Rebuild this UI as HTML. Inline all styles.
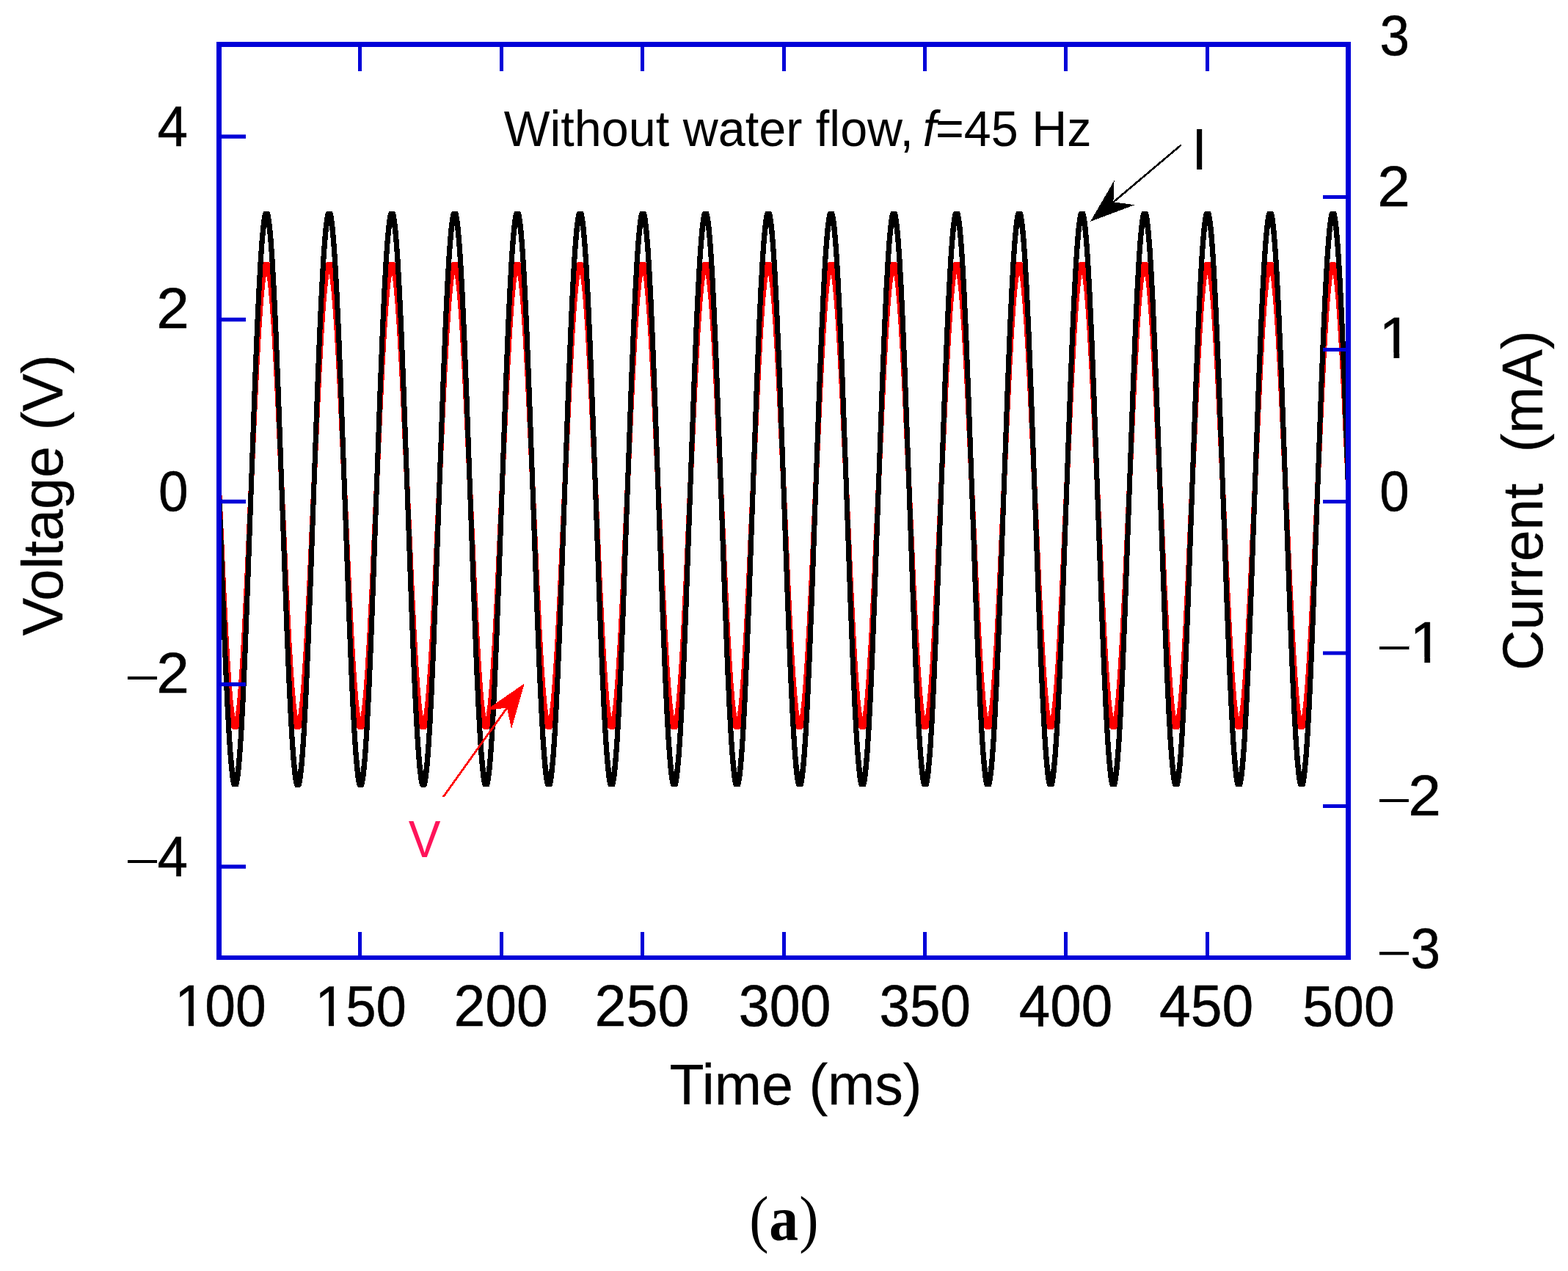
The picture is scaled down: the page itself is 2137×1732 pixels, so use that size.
<!DOCTYPE html>
<html lang="en"><head><meta charset="utf-8"><title>Voltage and current without water flow</title>
<style>
html,body{margin:0;padding:0;background:#fff;}
body{width:2137px;height:1732px;}
svg{display:block;}
text{font-family:"Liberation Sans",sans-serif;fill:#000;}
.cap{font-family:"Liberation Serif",serif;}
</style></head><body>
<svg width="2137" height="1732" viewBox="0 0 2137 1732" role="img" aria-label="Voltage and current versus time without water flow, f=45 Hz">
<rect x="0" y="0" width="2137" height="1732" fill="#fff"/>
<defs><clipPath id="plot"><rect x="295" y="57" width="1546" height="1251"/></clipPath></defs>
<g clip-path="url(#plot)" stroke="none" shape-rendering="crispEdges">
<polygon points="295.6,672.0 302.4,672.0 307.8,793.6 311.0,858.0 313.6,902.8 315.8,934.3 317.6,954.9 319.2,969.1 320.2,975.9 320.4,976.8 321.8,967.2 323.4,952.4 325.2,931.0 327.4,898.9 330.2,849.5 333.8,775.3 343.6,553.5 346.8,488.9 349.4,443.5 351.6,411.7 353.4,390.6 355.0,376.0 356.4,366.6 357.4,361.8 358.2,359.1 359.0,357.6 359.4,357.4 360.2,357.2 366.8,357.2 367.8,358.5 368.8,361.5 370.0,367.5 371.2,375.7 372.8,390.1 374.6,411.0 376.8,442.8 379.4,487.9 382.8,556.8 389.6,711.2 394.0,808.4 397.0,867.1 399.6,910.6 401.6,938.0 403.4,958.0 404.8,969.8 405.8,976.5 406.0,976.3 407.4,966.4 409.0,951.3 411.0,927.1 413.2,893.9 416.0,843.7 419.6,768.7 429.0,555.7 432.4,487.0 435.0,441.9 437.2,410.4 439.0,389.5 440.4,376.9 441.8,367.0 443.0,361.4 443.8,358.9 444.6,357.5 444.8,357.3 449.2,357.3 452.4,357.3 453.4,358.7 454.4,361.9 455.6,368.1 456.8,376.5 458.4,391.1 460.2,412.3 462.4,444.4 465.0,489.7 468.4,558.9 478.6,789.4 481.8,854.2 484.4,899.6 486.6,931.6 488.4,952.8 489.8,966.0 491.2,975.9 491.4,976.8 492.4,970.2 493.8,958.4 495.6,938.7 497.6,911.4 500.2,868.0 503.4,805.3 508.4,694.0 514.4,557.9 517.8,488.8 520.6,440.4 522.8,409.1 524.6,388.5 526.0,376.1 527.2,367.7 528.4,361.7 529.4,358.6 530.2,357.4 530.4,357.3 537.8,357.3 538.0,357.3 539.0,359.0 540.0,362.3 541.2,368.7 542.4,377.3 544.0,392.2 545.8,413.6 548.0,446.0 550.6,491.6 554.0,561.1 564.2,791.5 567.4,856.0 570.0,901.2 572.2,932.9 574.0,953.8 575.4,966.8 576.8,976.5 577.0,976.2 578.2,968.0 579.8,953.3 581.6,932.3 583.8,900.4 586.4,855.1 589.6,790.4 595.6,654.7 600.6,542.9 603.8,479.6 606.4,435.7 608.4,407.9 610.2,387.5 611.6,375.3 612.8,367.2 614.0,361.3 615.0,358.4 615.8,357.3 616.2,357.2 623.0,357.3 623.6,357.4 624.6,359.2 625.6,362.7 626.8,369.3 628.0,378.1 629.6,393.2 631.4,414.9 633.6,447.6 636.2,493.5 639.6,563.3 649.6,789.4 652.8,854.2 655.4,899.7 657.6,931.6 659.4,952.9 660.8,965.9 662.0,974.8 662.4,976.8 663.4,970.2 664.6,960.2 666.4,941.0 668.4,914.2 670.8,875.3 673.8,817.7 678.2,721.5 685.4,557.9 688.8,488.9 691.4,443.6 693.6,411.7 695.4,390.7 697.0,376.1 698.0,369.0 698.8,364.5 699.6,360.9 700.6,358.2 701.4,357.3 702.0,357.2 708.4,357.2 709.2,357.5 710.2,359.5 711.2,363.2 712.4,369.9 713.6,378.9 715.2,394.3 717.0,416.2 719.2,449.2 721.8,495.4 725.4,569.8 735.2,791.6 738.4,856.1 741.0,901.3 743.2,932.9 745.0,953.9 746.4,966.7 747.6,975.4 747.8,976.6 748.0,976.2 749.0,969.5 750.4,957.4 752.2,937.4 754.2,909.7 756.6,869.9 759.6,811.5 764.2,710.1 770.8,560.0 774.2,490.8 776.8,445.2 779.0,413.1 780.8,391.7 782.4,376.8 783.6,368.4 784.4,364.0 785.2,360.6 786.2,358.0 787.0,357.2 789.2,357.2 794.0,357.2 794.8,357.7 795.8,359.8 796.8,363.6 798.0,370.6 799.2,379.8 800.8,395.4 802.6,417.6 804.8,450.9 807.4,497.4 811.0,572.0 820.6,789.4 824.0,857.9 826.6,902.9 828.8,934.2 830.6,954.9 832.0,967.5 833.2,976.0 833.4,976.9 834.6,968.7 836.0,956.4 837.8,936.1 840.0,905.2 842.6,860.7 845.8,796.9 851.4,670.8 856.8,549.3 860.0,485.1 862.4,443.6 864.6,411.7 866.4,390.7 867.8,377.6 869.2,367.8 870.0,363.5 870.8,360.2 871.8,357.9 872.6,357.2 879.6,357.2 880.4,357.8 881.4,360.1 882.4,364.1 883.6,371.2 884.8,380.6 886.4,396.5 888.2,419.0 890.6,455.9 893.2,503.2 896.8,578.6 906.0,787.2 909.4,856.1 912.2,904.4 914.2,933.0 916.0,954.0 917.4,966.7 918.4,974.0 918.8,976.6 919.0,976.3 920.2,967.9 921.6,955.4 923.4,934.8 925.6,903.7 928.2,858.9 931.4,794.8 937.2,663.9 942.4,547.2 945.6,483.3 948.0,442.0 950.2,410.5 952.0,389.7 953.4,376.8 954.8,367.2 955.6,363.0 956.4,359.9 957.4,357.7 958.2,357.2 965.2,357.2 966.0,358.0 967.0,360.5 968.2,365.7 969.2,371.9 970.6,383.3 972.2,400.0 974.2,426.2 976.6,464.4 979.6,521.1 983.8,612.2 991.4,785.1 994.8,854.2 997.4,899.6 999.6,931.7 1001.4,952.8 1003.0,967.5 1004.0,974.7 1004.4,976.9 1005.8,967.1 1007.2,954.4 1009.0,933.6 1011.2,902.1 1014.0,853.3 1017.4,784.0 1027.6,553.5 1030.8,488.9 1033.4,443.5 1035.6,411.7 1037.4,390.6 1038.8,377.7 1040.2,367.7 1041.2,362.6 1042.0,359.6 1043.0,357.6 1043.8,357.2 1050.8,357.2 1051.6,358.2 1052.6,360.8 1053.8,366.3 1054.8,372.6 1056.2,384.2 1057.8,401.2 1059.8,427.6 1062.2,466.1 1065.2,523.2 1069.4,614.5 1076.8,782.9 1080.2,852.3 1082.8,898.0 1085.0,930.3 1086.8,951.7 1088.4,966.8 1089.6,975.3 1089.8,976.5 1090.0,976.3 1091.4,966.3 1093.0,951.4 1095.0,927.1 1097.2,893.9 1099.8,847.6 1103.4,773.1 1113.0,555.7 1116.4,487.0 1119.0,441.9 1121.2,410.4 1123.0,389.6 1124.4,376.9 1125.8,367.1 1126.8,362.2 1127.6,359.4 1128.6,357.4 1129.6,357.2 1136.4,357.3 1137.2,358.4 1138.2,361.2 1139.4,366.8 1140.4,373.4 1141.8,385.2 1143.6,404.8 1145.6,432.0 1148.0,471.4 1151.0,529.4 1155.4,625.9 1162.4,785.1 1165.8,854.2 1168.4,899.6 1170.6,931.6 1172.4,952.8 1174.0,967.6 1175.2,975.9 1175.4,976.8 1176.8,967.2 1178.2,954.3 1180.0,933.5 1182.2,902.0 1184.6,860.7 1187.8,796.8 1193.2,675.5 1198.8,549.2 1202.0,485.1 1204.6,440.3 1206.8,409.2 1208.6,388.6 1210.0,376.1 1211.2,367.7 1212.4,361.8 1213.2,359.1 1214.2,357.3 1218.6,357.3 1222.0,357.3 1223.0,359.0 1224.0,362.4 1225.0,367.4 1226.2,375.7 1227.6,388.0 1229.4,408.5 1231.4,436.5 1233.8,476.9 1236.8,535.6 1241.4,637.4 1248.0,787.3 1251.2,852.3 1253.8,898.1 1256.0,930.3 1257.8,951.8 1259.4,966.9 1260.6,975.4 1260.8,976.5 1261.0,976.2 1262.4,966.4 1264.0,951.3 1265.8,929.6 1268.0,897.3 1270.8,847.6 1274.4,773.1 1284.0,555.7 1287.4,487.0 1290.0,442.0 1292.2,410.4 1294.0,389.5 1295.4,376.9 1296.6,368.4 1297.6,363.1 1298.4,360.1 1298.8,358.9 1299.8,357.3 1307.2,357.3 1307.6,357.4 1308.6,359.3 1309.6,362.8 1310.6,368.0 1311.8,376.5 1313.2,389.1 1315.0,409.8 1317.2,441.1 1320.0,489.8 1323.4,559.0 1333.6,789.4 1336.8,854.2 1339.4,899.7 1341.6,931.6 1343.4,952.8 1345.0,967.7 1346.2,976.0 1346.4,976.8 1347.4,970.2 1348.8,958.4 1350.6,938.6 1352.6,911.3 1355.0,871.6 1358.0,813.6 1362.4,717.0 1369.4,557.9 1372.8,488.8 1375.4,443.6 1377.6,411.6 1379.4,390.6 1381.0,376.1 1382.0,369.0 1383.0,363.6 1383.6,361.0 1384.4,358.6 1385.4,357.2 1392.4,357.2 1393.2,357.5 1394.2,359.5 1395.2,363.2 1396.2,368.6 1397.4,377.3 1398.8,390.1 1400.6,411.1 1402.8,442.7 1405.6,491.6 1409.0,561.1 1419.2,791.6 1422.4,856.0 1425.0,901.3 1427.2,932.9 1429.0,953.9 1430.6,968.4 1431.8,976.6 1432.0,976.2 1433.0,969.5 1434.4,957.5 1436.2,937.4 1438.2,909.8 1440.6,869.8 1443.6,811.5 1448.2,710.1 1454.8,560.0 1458.2,490.8 1460.8,445.2 1463.0,413.0 1464.8,391.7 1466.4,376.8 1467.6,368.4 1468.4,364.0 1469.2,360.7 1470.0,358.4 1471.0,357.2 1477.8,357.2 1478.8,357.6 1479.8,359.8 1480.8,363.7 1481.8,369.2 1483.0,378.1 1484.4,391.1 1486.2,412.4 1488.4,444.3 1491.2,493.6 1494.6,563.3 1504.8,793.7 1508.0,857.9 1510.6,902.8 1512.8,934.2 1514.6,954.9 1516.0,967.6 1517.2,976.1 1517.4,976.8 1518.6,968.7 1520.0,956.5 1521.8,936.1 1523.8,908.3 1526.4,864.4 1529.6,801.1 1534.8,684.7 1540.6,553.6 1543.8,488.9 1546.4,443.6 1548.6,411.7 1550.4,390.7 1552.0,376.0 1553.2,367.8 1554.0,363.5 1554.8,360.3 1555.6,358.2 1556.6,357.1 1563.4,357.1 1564.4,357.8 1565.4,360.1 1566.4,364.2 1567.6,371.3 1568.8,380.6 1570.4,396.6 1572.2,419.0 1574.6,455.9 1577.4,507.2 1581.2,587.5 1590.0,787.2 1593.4,856.1 1596.0,901.3 1598.2,933.0 1600.0,954.0 1601.6,968.3 1602.8,976.6 1603.0,976.3 1604.2,967.9 1605.6,955.5 1607.4,934.9 1609.6,903.6 1612.4,855.2 1615.8,786.1 1626.2,551.4 1629.4,487.0 1632.0,442.0 1634.2,410.4 1636.0,389.7 1637.6,375.2 1638.6,368.3 1639.6,363.1 1640.4,360.0 1641.2,358.0 1642.0,357.3 1642.2,357.1 1649.0,357.1 1650.0,357.9 1651.0,360.4 1652.0,364.7 1653.2,372.0 1654.4,381.5 1656.0,397.7 1658.0,423.3 1660.4,460.9 1663.4,517.1 1667.4,603.2 1675.4,785.1 1678.8,854.3 1681.6,902.8 1683.8,934.3 1685.6,955.0 1687.0,967.5 1688.2,975.9 1688.4,977.0 1689.8,967.1 1691.4,952.4 1693.2,931.1 1695.4,898.8 1698.0,853.3 1701.4,784.0 1711.6,553.5 1714.8,488.9 1717.4,443.6 1719.6,411.7 1721.4,390.7 1723.0,375.9 1724.2,367.7 1725.2,362.7 1726.0,359.7 1726.8,357.9 1727.4,357.4 1727.8,357.1 1734.6,357.1 1735.6,358.1 1736.6,360.8 1737.6,365.2 1738.8,372.7 1740.2,384.2 1741.8,401.2 1743.8,427.6 1746.2,466.1 1749.2,523.2 1753.4,614.5 1760.8,782.9 1764.2,852.3 1766.8,898.0 1769.0,930.3 1770.8,951.8 1772.4,966.8 1773.6,975.3 1773.8,976.5 1774.0,976.4 1775.4,966.3 1777.0,951.3 1778.8,929.8 1781.0,897.2 1783.6,851.4 1787.0,781.8 1797.2,551.4 1800.4,487.0 1803.0,442.0 1805.2,410.5 1807.0,389.6 1808.6,375.1 1809.8,367.2 1810.8,362.2 1811.6,359.4 1812.4,357.7 1812.8,357.4 1813.4,357.2 1820.2,357.2 1821.2,358.3 1822.2,361.1 1823.4,366.9 1824.6,374.9 1826.2,389.1 1828.0,409.7 1830.2,441.2 1832.8,486.0 1836.2,554.6 1841.4,672.0 1841.4,678.8 1834.6,678.8 1832.2,623.6 1828.0,532.0 1825.0,474.6 1822.6,435.9 1820.6,409.2 1818.8,390.1 1817.4,378.7 1816.6,374.0 1815.4,381.9 1813.8,396.4 1812.0,417.3 1809.8,448.8 1807.2,493.8 1804.0,558.2 1793.8,788.6 1790.4,858.2 1787.8,904.0 1785.6,936.6 1783.8,958.1 1782.2,973.1 1781.0,981.9 1779.8,988.3 1778.8,991.7 1778.2,992.8 1777.8,993.4 1777.2,993.5 1770.2,993.6 1769.2,992.3 1768.2,989.3 1767.0,983.3 1765.8,975.1 1764.4,962.8 1762.6,942.3 1760.6,914.3 1758.0,870.3 1754.8,806.9 1749.6,690.4 1743.8,559.3 1740.6,494.7 1738.0,449.6 1735.8,417.9 1734.0,397.0 1732.4,382.4 1731.2,374.3 1731.0,374.5 1729.8,382.7 1728.2,397.5 1726.4,418.5 1724.2,450.4 1721.6,495.7 1718.4,560.3 1708.2,790.8 1704.8,860.1 1702.2,905.6 1700.0,937.9 1698.2,959.2 1696.6,973.9 1695.4,982.5 1694.2,988.7 1693.2,991.9 1692.6,993.0 1692.2,993.5 1692.0,993.5 1684.6,993.5 1683.6,992.1 1682.6,988.9 1681.4,982.7 1680.2,974.3 1678.8,961.8 1677.0,941.1 1674.8,909.6 1672.0,861.1 1668.6,791.9 1660.0,596.5 1656.2,516.0 1653.4,464.4 1651.0,427.2 1649.0,402.2 1647.4,386.6 1646.2,377.3 1645.6,374.0 1645.4,375.1 1644.4,382.0 1642.8,396.5 1641.0,417.2 1638.8,448.8 1636.2,493.8 1633.0,558.2 1622.6,792.9 1619.2,862.0 1616.4,910.4 1614.2,941.7 1612.4,962.3 1611.0,974.7 1609.8,983.1 1608.6,989.1 1607.6,992.2 1607.0,993.1 1606.6,993.5 1603.4,993.5 1599.0,993.5 1598.0,991.8 1597.2,989.2 1596.2,984.5 1594.8,975.1 1593.2,960.8 1591.4,939.8 1589.2,908.1 1586.6,862.9 1583.4,798.3 1573.0,563.5 1569.6,494.8 1567.0,449.6 1564.8,417.9 1563.0,397.0 1561.6,384.0 1560.2,374.3 1560.0,374.6 1558.8,382.8 1557.2,397.5 1555.4,418.5 1553.2,450.4 1550.6,495.7 1547.4,560.4 1541.6,691.5 1536.4,807.9 1533.2,871.2 1530.6,915.1 1528.6,942.9 1526.8,963.3 1525.4,975.5 1524.2,983.6 1523.0,989.5 1522.0,992.4 1521.4,993.2 1521.0,993.6 1514.4,993.6 1513.4,993.4 1512.4,991.6 1511.6,988.8 1510.6,984.0 1509.2,974.4 1507.8,961.7 1506.0,941.0 1503.8,909.6 1501.2,864.7 1498.0,800.5 1487.8,570.1 1484.4,500.4 1481.6,451.1 1479.4,419.2 1477.6,397.9 1476.2,384.9 1475.0,376.0 1474.6,374.0 1474.4,375.2 1473.2,383.6 1471.6,398.5 1469.8,419.8 1467.6,452.0 1465.0,497.6 1461.6,566.8 1455.0,716.9 1450.4,818.3 1447.4,876.6 1445.0,916.6 1443.0,944.2 1441.2,964.3 1439.8,976.3 1438.6,984.2 1437.4,989.9 1436.4,992.6 1435.8,993.3 1435.4,993.6 1428.6,993.6 1427.8,993.3 1426.8,991.3 1426.0,988.4 1425.0,983.4 1423.8,975.2 1422.2,960.7 1420.4,939.7 1418.2,908.1 1415.6,862.8 1412.2,794.0 1406.0,653.4 1401.2,546.6 1398.0,483.6 1395.6,443.4 1393.6,415.3 1391.8,394.9 1390.4,382.4 1389.2,374.2 1389.0,374.6 1388.8,375.8 1387.8,382.9 1386.2,397.4 1384.4,418.4 1382.2,450.4 1379.6,495.6 1376.2,564.7 1369.2,723.8 1364.8,820.4 1361.8,878.4 1359.4,918.1 1357.4,945.4 1355.6,965.2 1354.2,977.0 1353.0,984.8 1351.8,990.2 1350.8,992.8 1350.2,993.4 1349.8,993.6 1343.0,993.6 1342.2,993.1 1341.2,991.0 1340.4,987.9 1339.4,982.8 1338.2,974.5 1336.6,959.6 1334.8,938.4 1332.6,906.5 1330.0,861.0 1326.6,791.9 1320.0,641.9 1315.4,540.3 1312.4,481.8 1310.0,441.9 1308.0,414.1 1306.2,393.9 1304.8,381.6 1303.6,373.9 1303.4,375.2 1302.2,383.7 1300.6,398.5 1298.8,419.8 1296.6,452.0 1294.0,497.5 1290.6,566.8 1283.2,735.2 1279.0,826.6 1276.0,883.8 1273.6,922.5 1271.6,949.0 1270.0,966.2 1268.6,977.7 1267.4,985.3 1266.2,990.6 1265.2,992.9 1264.4,993.6 1257.4,993.6 1256.6,993.0 1255.6,990.7 1254.8,987.5 1253.8,982.2 1252.6,973.7 1251.0,958.6 1249.2,937.1 1247.0,904.9 1244.4,859.1 1241.2,794.1 1234.6,644.2 1230.0,542.4 1227.0,483.7 1224.6,443.3 1222.6,415.3 1220.8,394.8 1219.4,382.5 1218.2,374.2 1218.0,374.5 1217.8,375.8 1216.6,384.5 1215.2,397.3 1213.4,418.4 1211.2,450.4 1208.6,495.6 1205.2,564.7 1196.0,773.4 1192.4,848.5 1189.8,895.7 1187.4,932.5 1185.6,954.8 1184.0,970.6 1182.8,979.9 1181.6,986.9 1180.6,990.9 1179.6,993.1 1178.8,993.6 1171.8,993.6 1171.0,992.8 1170.0,990.3 1169.2,987.0 1168.4,982.7 1167.2,974.4 1165.6,959.6 1163.8,938.4 1161.6,906.4 1159.0,861.0 1155.6,791.9 1148.6,632.7 1144.2,536.2 1141.2,478.2 1138.8,438.8 1136.8,411.6 1135.0,392.0 1133.6,380.2 1132.6,373.9 1131.2,383.7 1129.8,396.4 1128.0,417.2 1125.8,448.7 1123.2,493.8 1119.8,562.5 1110.2,779.9 1106.6,854.4 1104.0,900.7 1101.8,933.9 1100.0,955.9 1098.4,971.4 1097.2,980.5 1096.0,987.4 1095.0,991.2 1094.0,993.2 1093.2,993.6 1086.2,993.6 1085.4,992.6 1084.4,990.0 1083.6,986.6 1082.8,982.1 1081.6,973.6 1080.0,958.5 1078.2,937.1 1076.0,904.8 1073.4,859.1 1070.0,789.7 1063.2,635.0 1058.8,538.2 1055.8,480.1 1053.4,440.3 1051.4,412.8 1049.6,392.9 1048.2,381.0 1047.2,374.3 1047.0,374.5 1045.6,384.5 1044.2,397.4 1042.4,418.5 1040.2,450.3 1037.6,495.7 1034.4,560.3 1024.4,786.4 1021.0,856.3 1018.4,902.4 1016.2,935.2 1014.4,957.0 1012.8,972.3 1011.6,981.2 1010.4,987.8 1009.4,991.4 1008.4,993.4 1007.8,993.5 1000.6,993.5 999.8,992.4 998.8,989.6 998.0,986.1 997.2,981.5 996.2,974.3 994.6,959.6 992.8,938.5 990.6,906.4 988.0,861.0 984.6,791.9 977.0,619.0 972.8,527.9 969.8,471.2 967.4,433.0 965.4,406.8 963.8,390.1 962.4,378.7 961.6,374.0 961.4,375.1 960.0,385.3 958.6,398.5 956.8,419.8 954.6,451.9 952.2,493.8 949.0,558.2 938.8,788.6 935.4,858.2 932.8,904.0 930.6,936.5 928.8,958.1 927.2,973.1 926.0,981.8 924.8,988.2 923.8,991.7 922.8,993.5 922.6,993.5 915.0,993.5 914.2,992.2 913.2,989.3 912.4,985.6 911.6,980.8 910.6,973.5 909.2,960.8 907.4,939.8 905.4,911.2 903.0,870.3 899.8,806.8 894.6,690.4 888.8,559.3 885.6,494.8 883.0,449.6 880.8,417.9 879.0,397.0 877.4,382.4 876.2,374.3 876.0,374.6 874.6,384.4 873.2,397.5 871.4,418.5 869.2,450.4 866.8,491.9 863.6,556.1 858.2,677.6 852.6,803.7 849.4,867.5 846.8,912.0 844.6,942.9 842.8,963.2 841.4,975.5 840.2,983.7 839.2,988.7 838.2,991.9 837.2,993.5 830.6,993.5 829.4,993.4 828.6,992.0 827.6,988.9 826.4,982.8 825.2,974.3 823.8,961.7 822.0,941.0 819.8,909.7 817.2,864.7 813.8,796.2 804.2,578.8 800.6,504.2 798.0,457.7 795.8,424.4 794.0,402.2 792.4,386.6 791.2,377.4 790.6,374.0 790.4,375.2 789.2,383.6 787.6,398.5 785.8,419.9 783.6,452.0 781.0,497.6 777.6,566.8 771.0,716.9 766.4,818.3 763.4,876.7 761.0,916.5 759.0,944.2 757.2,964.2 755.8,976.3 754.6,984.3 753.6,989.1 752.6,992.2 751.6,993.6 745.0,993.6 743.8,993.3 743.0,991.8 742.0,988.4 740.8,982.2 739.6,973.5 738.2,960.7 736.4,939.7 734.2,908.1 731.6,862.9 728.4,798.4 718.6,576.6 715.0,502.2 712.2,452.7 710.0,420.4 708.2,398.9 706.6,384.0 705.2,374.2 705.0,374.6 704.8,375.8 703.8,382.9 702.2,397.5 700.4,418.5 698.2,450.4 695.6,495.7 692.2,564.7 685.0,728.3 680.6,824.5 677.6,882.1 675.2,921.0 673.2,947.8 671.4,967.0 670.2,977.0 669.0,984.8 668.0,989.4 667.0,992.4 666.0,993.6 659.2,993.6 658.2,993.2 657.4,991.5 656.4,988.0 655.2,981.6 654.0,972.7 652.6,959.7 650.8,938.4 648.6,906.5 646.0,861.0 642.8,796.2 632.8,570.1 629.4,500.3 626.8,454.4 624.6,421.7 622.8,400.0 621.2,384.9 620.0,376.1 619.6,374.0 619.4,375.2 618.2,383.6 616.6,398.5 614.8,419.8 612.6,452.0 610.0,497.5 606.6,566.8 598.4,753.3 594.4,838.7 591.6,890.7 589.2,928.3 587.2,953.7 585.6,969.7 584.4,979.2 583.4,985.3 582.4,989.8 581.4,992.6 580.4,993.7 573.6,993.7 572.6,993.0 571.8,991.2 571.0,988.3 570.0,983.3 568.6,973.6 567.2,960.6 565.4,939.7 563.2,908.0 560.6,862.8 557.4,798.3 547.2,567.9 543.8,498.4 541.0,449.5 538.8,417.8 537.0,396.8 535.4,382.5 534.2,374.2 534.0,374.5 532.8,382.9 531.4,395.3 529.6,415.9 527.4,447.2 524.6,495.6 521.2,564.7 512.6,760.0 508.8,840.6 506.0,892.4 503.6,929.7 501.6,954.9 500.0,970.6 498.8,979.9 497.8,985.9 496.8,990.1 496.0,992.3 495.6,993.0 494.8,993.7 488.0,993.7 487.0,992.9 486.2,990.9 485.4,987.9 484.4,982.7 483.0,972.8 481.6,959.6 479.8,938.4 477.6,906.4 475.2,864.7 472.0,800.4 466.4,674.2 461.0,552.9 457.8,489.2 455.2,444.8 453.0,414.1 451.2,393.9 449.8,381.7 448.6,373.8 447.2,383.7 445.8,396.3 444.0,417.2 441.8,448.7 439.0,497.5 435.6,566.8 427.0,762.2 423.2,842.6 420.4,894.1 418.0,931.1 416.0,956.0 414.4,971.4 413.2,980.6 412.2,986.4 411.2,990.5 410.4,992.5 410.0,993.2 409.2,993.7 402.4,993.7 401.4,992.7 400.6,990.6 399.8,987.5 399.0,983.3 398.0,976.6 396.6,964.8 394.8,944.8 392.8,917.4 390.2,873.9 387.2,815.2 382.8,718.0 376.0,563.6 372.6,494.7 370.0,449.6 367.8,417.8 366.0,396.9 364.4,382.5 363.2,374.3 363.0,374.4 361.8,382.8 360.2,397.4 358.4,418.5 356.2,450.3 353.6,495.7 350.2,564.7 341.4,764.4 337.6,844.6 334.8,895.8 332.4,932.4 330.4,957.0 328.8,972.3 327.6,981.2 326.6,986.8 325.6,990.8 324.8,992.6 324.4,993.3 323.6,993.6 316.8,993.6 315.8,992.5 314.8,989.7 313.6,983.9 312.4,975.9 310.8,961.7 309.0,941.1 306.8,909.6 304.2,864.8 301.0,800.4 295.6,678.8" fill="#FF0000"/>
<polygon points="295.6,676.8 302.4,676.8 307.8,827.0 311.0,906.5 313.6,961.8 315.8,1000.8 317.6,1026.2 319.2,1043.7 320.2,1052.1 320.4,1053.3 321.8,1041.3 323.4,1023.1 325.2,996.7 327.4,957.0 330.2,896.0 333.8,804.4 343.6,530.5 346.8,450.6 349.4,394.6 351.6,355.3 353.4,329.2 355.0,311.3 356.4,299.6 357.4,293.7 358.2,290.4 359.0,288.5 359.2,288.3 360.2,288.0 366.8,288.0 367.8,289.6 368.8,293.4 370.0,300.7 371.2,310.9 372.8,328.7 374.6,354.4 376.8,393.8 379.4,449.4 382.8,534.5 389.6,725.2 394.0,845.3 397.0,917.8 399.6,971.4 401.6,1005.4 403.4,1030.0 404.8,1044.6 405.8,1052.9 406.0,1052.6 407.4,1040.3 409.0,1021.8 411.0,991.8 413.2,950.9 416.0,888.8 419.6,796.3 429.0,533.2 432.4,448.3 435.0,392.7 437.2,353.7 439.0,328.0 440.4,312.3 441.8,300.2 443.0,293.3 443.8,290.1 444.6,288.4 444.8,288.2 447.2,288.1 452.4,288.1 453.4,289.9 454.4,293.8 455.6,301.4 456.8,311.8 458.4,329.9 460.2,356.0 462.4,395.7 465.0,451.7 468.4,537.2 478.6,821.8 481.8,901.8 484.4,957.9 486.6,997.4 488.4,1023.6 489.8,1039.9 491.2,1052.2 491.4,1053.2 492.4,1045.1 493.8,1030.6 495.6,1006.2 497.6,972.4 500.2,918.9 503.4,841.5 508.4,703.9 514.4,535.9 517.8,450.5 520.6,390.7 522.8,352.1 524.6,326.7 526.0,311.3 527.2,301.0 528.4,293.6 529.4,289.8 530.2,288.3 530.4,288.1 537.6,288.1 538.0,288.2 539.0,290.2 540.0,294.3 541.2,302.2 542.4,312.8 544.0,331.2 545.8,357.7 548.0,397.7 550.6,454.0 554.0,539.9 564.2,824.4 567.4,904.1 570.0,959.9 572.2,999.0 574.0,1024.9 575.4,1040.9 576.8,1052.9 577.0,1052.5 578.2,1042.3 579.8,1024.2 581.6,998.2 583.8,958.9 586.4,902.9 589.6,823.1 595.6,655.4 600.6,517.3 603.8,439.2 606.4,385.0 608.4,350.6 610.2,325.5 611.6,310.4 612.8,300.3 614.0,293.1 615.0,289.5 615.8,288.2 616.0,288.0 622.8,288.0 623.6,288.3 624.6,290.5 625.6,294.9 626.8,302.9 628.0,313.8 629.6,332.5 631.4,359.3 633.6,399.7 636.2,456.4 639.6,542.5 649.6,821.8 652.8,901.8 655.4,958.0 657.6,997.4 659.4,1023.7 660.8,1039.8 662.0,1050.7 662.4,1053.2 663.4,1045.1 664.6,1032.7 666.4,1009.0 668.4,975.9 670.8,927.8 673.8,856.8 678.2,738.0 685.4,535.8 688.8,450.6 691.4,394.8 693.6,355.3 695.4,329.4 697.0,311.3 698.0,302.6 698.8,297.0 699.6,292.6 700.6,289.3 701.4,288.1 701.8,288.0 708.4,288.0 709.2,288.4 710.2,290.9 711.2,295.4 712.4,303.7 713.6,314.9 715.2,333.9 717.0,360.9 719.2,401.7 721.8,458.7 725.4,550.6 735.2,824.5 738.4,904.1 741.0,960.0 743.2,999.1 745.0,1025.0 746.4,1040.8 747.6,1051.5 747.8,1053.0 748.0,1052.5 749.0,1044.2 750.4,1029.3 752.2,1004.5 754.2,970.4 756.6,921.1 759.6,849.1 764.2,723.8 770.8,538.4 774.2,453.0 776.8,396.7 779.0,357.0 780.8,330.7 782.4,312.2 783.6,301.8 784.4,296.4 785.2,292.2 786.2,289.0 787.0,288.1 787.6,288.0 794.0,288.0 794.8,288.6 795.8,291.2 796.8,296.0 798.0,304.5 799.2,315.9 800.8,335.2 802.6,362.6 804.8,403.7 807.4,461.1 811.0,553.3 820.6,821.8 824.0,906.4 826.6,961.9 828.8,1000.6 830.6,1026.2 832.0,1041.8 833.2,1052.2 833.4,1053.4 834.6,1043.2 836.0,1028.1 837.8,1003.0 840.0,964.8 842.6,909.9 845.8,831.1 851.4,675.4 856.8,525.3 860.0,446.0 862.4,394.7 864.6,355.4 866.4,329.4 867.8,313.2 869.2,301.1 870.0,295.8 870.8,291.8 871.8,288.8 872.6,288.0 879.6,288.0 880.4,288.8 881.4,291.6 882.4,296.6 883.6,305.4 884.8,317.0 886.4,336.6 888.2,364.3 890.6,409.9 893.2,468.4 896.8,561.4 906.0,819.1 909.4,904.2 912.2,963.9 914.2,999.2 916.0,1025.0 917.4,1040.8 918.4,1049.8 918.8,1053.0 919.0,1052.6 920.2,1042.3 921.6,1026.8 923.4,1001.4 925.6,962.9 928.2,907.6 931.4,828.4 937.2,666.8 942.4,522.6 945.6,443.7 948.0,392.8 950.2,353.8 952.0,328.1 953.4,312.2 954.8,300.4 955.6,295.2 956.4,291.4 957.4,288.6 958.2,288.0 965.2,288.0 966.0,289.0 967.0,292.0 968.2,298.6 969.2,306.2 970.6,320.3 972.2,340.9 974.2,373.2 976.6,420.4 979.6,490.5 983.8,603.0 991.4,816.4 994.8,901.8 997.4,957.9 999.6,997.5 1001.4,1023.6 1003.0,1041.8 1004.0,1050.6 1004.4,1053.4 1005.8,1041.3 1007.2,1025.6 1009.0,999.8 1011.2,961.0 1014.0,900.7 1017.4,815.1 1027.6,530.5 1030.8,450.7 1033.4,394.6 1035.6,355.4 1037.4,329.3 1038.8,313.3 1040.2,301.0 1041.2,294.7 1042.0,291.0 1043.0,288.5 1043.8,288.0 1050.8,288.0 1051.6,289.2 1052.6,292.5 1053.8,299.2 1054.8,307.1 1056.2,321.4 1057.8,342.4 1059.8,375.0 1062.2,422.5 1065.2,493.0 1069.4,605.8 1076.8,813.8 1080.2,899.4 1082.8,955.9 1085.0,995.8 1086.8,1022.3 1088.4,1040.9 1089.6,1051.4 1089.8,1052.9 1090.0,1052.6 1091.4,1040.3 1093.0,1021.8 1095.0,991.8 1097.2,950.9 1099.8,893.6 1103.4,801.7 1113.0,533.2 1116.4,448.3 1119.0,392.6 1121.2,353.8 1123.0,328.0 1124.4,312.3 1125.8,300.2 1126.8,294.2 1127.6,290.7 1128.6,288.3 1129.6,288.1 1136.4,288.1 1137.2,289.4 1138.2,292.9 1139.4,299.9 1140.4,308.0 1141.8,322.6 1143.6,346.8 1145.6,380.4 1148.0,429.1 1151.0,500.6 1155.4,619.9 1162.4,816.5 1165.8,901.8 1168.4,957.9 1170.6,997.4 1172.4,1023.6 1174.0,1041.9 1175.2,1052.1 1175.4,1053.2 1176.8,1041.4 1178.2,1025.5 1180.0,999.8 1182.2,960.8 1184.6,909.9 1187.8,831.0 1193.2,681.1 1198.8,525.2 1202.0,446.0 1204.6,390.7 1206.8,352.2 1208.6,326.8 1210.0,311.3 1211.2,301.0 1212.4,293.7 1213.2,290.4 1214.2,288.2 1216.6,288.1 1221.8,288.1 1222.0,288.2 1223.0,290.3 1224.0,294.4 1225.0,300.6 1226.2,310.8 1227.6,326.1 1229.4,351.4 1231.4,386.0 1233.8,435.8 1236.8,508.3 1241.4,634.0 1248.0,819.1 1251.2,899.4 1253.8,956.0 1256.0,995.8 1257.8,1022.3 1259.4,1041.0 1260.6,1051.5 1260.8,1052.9 1261.0,1052.5 1262.4,1040.4 1264.0,1021.7 1265.8,995.0 1268.0,955.0 1270.8,893.6 1274.4,801.6 1284.0,533.2 1287.4,448.3 1290.0,392.7 1292.2,353.7 1294.0,327.9 1295.4,312.3 1296.4,303.4 1297.4,296.5 1298.0,293.2 1298.8,290.1 1299.8,288.1 1307.0,288.1 1307.6,288.3 1308.6,290.6 1309.6,294.9 1310.6,301.4 1311.8,311.8 1313.2,327.4 1315.0,353.0 1317.2,391.7 1320.0,451.7 1323.4,537.2 1333.6,821.8 1336.8,901.8 1339.4,958.0 1341.6,997.4 1343.4,1023.6 1345.0,1041.9 1346.2,1052.2 1346.4,1053.2 1347.4,1045.1 1348.8,1030.6 1350.6,1006.1 1352.6,972.3 1355.0,923.3 1358.0,851.7 1362.4,732.3 1369.4,535.8 1372.8,450.6 1375.4,394.7 1377.6,355.3 1379.4,329.3 1381.0,311.3 1382.0,302.6 1382.8,297.0 1383.6,292.7 1384.4,289.8 1385.4,288.0 1392.4,288.1 1393.2,288.4 1394.2,290.9 1395.2,295.5 1396.2,302.1 1397.4,312.8 1398.8,328.6 1400.6,354.5 1402.8,393.6 1405.6,454.1 1409.0,539.9 1419.2,824.4 1422.4,904.1 1425.0,959.9 1427.2,999.0 1429.0,1024.9 1430.6,1042.9 1431.8,1053.0 1432.0,1052.5 1433.0,1044.2 1434.4,1029.4 1436.2,1004.6 1438.2,970.5 1440.6,921.1 1443.6,849.1 1448.2,723.8 1454.8,538.5 1458.2,453.0 1460.8,396.7 1463.0,357.0 1464.8,330.7 1466.4,312.2 1467.6,301.9 1468.4,296.4 1469.2,292.3 1470.0,289.5 1471.0,288.0 1477.8,288.0 1478.8,288.6 1479.8,291.3 1480.8,296.0 1481.8,302.9 1483.0,313.8 1484.4,329.9 1486.2,356.2 1488.4,395.6 1491.2,456.4 1494.6,542.5 1504.8,827.1 1508.0,906.4 1510.6,961.9 1512.8,1000.6 1514.6,1026.2 1516.0,1041.8 1517.2,1052.3 1517.4,1053.3 1518.6,1043.2 1520.0,1028.1 1521.8,1003.0 1523.8,968.6 1526.4,914.4 1529.6,836.3 1534.8,692.5 1540.6,530.5 1543.8,450.7 1546.4,394.7 1548.6,355.4 1550.4,329.4 1552.0,311.3 1553.2,301.1 1554.0,295.9 1554.8,291.9 1555.6,289.3 1556.6,287.9 1563.4,287.9 1564.4,288.7 1565.4,291.6 1566.4,296.6 1567.6,305.4 1568.8,317.0 1570.4,336.6 1572.2,364.4 1574.6,409.9 1577.4,473.3 1581.2,572.4 1590.0,819.1 1593.4,904.2 1596.0,959.9 1598.2,999.1 1600.0,1025.1 1601.6,1042.8 1602.8,1053.0 1603.0,1052.6 1604.2,1042.3 1605.6,1026.9 1607.4,1001.5 1609.6,962.9 1612.4,903.1 1615.8,817.7 1626.2,527.9 1629.4,448.3 1632.0,392.8 1634.2,353.8 1636.0,328.1 1637.6,310.3 1638.6,301.8 1639.6,295.3 1640.4,291.5 1641.2,289.1 1641.8,288.3 1642.2,287.9 1649.0,287.9 1650.0,288.9 1651.0,292.0 1652.0,297.2 1653.2,306.3 1654.4,318.1 1656.0,338.0 1658.0,369.6 1660.4,416.1 1663.4,485.5 1667.4,591.8 1675.4,816.4 1678.8,901.9 1681.6,961.9 1683.8,1000.7 1685.6,1026.3 1687.0,1041.8 1688.2,1052.2 1688.4,1053.4 1689.8,1041.3 1691.4,1023.1 1693.2,996.8 1695.4,956.9 1698.0,900.7 1701.4,815.1 1711.6,530.5 1714.8,450.7 1717.4,394.7 1719.6,355.4 1721.4,329.3 1723.0,311.1 1724.2,301.0 1725.2,294.8 1726.0,291.1 1726.8,288.9 1727.2,288.4 1727.8,287.9 1734.6,287.9 1735.6,289.1 1736.6,292.5 1737.6,297.9 1738.8,307.1 1740.0,319.2 1741.8,342.4 1743.8,375.0 1746.2,422.5 1749.2,493.0 1753.4,605.8 1760.8,813.8 1764.2,899.5 1766.8,955.9 1769.0,995.8 1770.8,1022.3 1772.4,1040.8 1773.6,1051.4 1773.8,1052.9 1774.0,1052.7 1775.4,1040.3 1777.0,1021.8 1778.8,995.2 1781.0,954.9 1783.6,898.4 1787.0,812.4 1797.2,527.8 1800.4,448.4 1803.0,392.7 1805.2,353.8 1807.0,328.1 1808.6,310.2 1809.8,300.3 1810.8,294.2 1811.6,290.7 1812.4,288.7 1812.8,288.3 1813.4,288.0 1820.2,288.0 1821.2,289.3 1822.2,292.9 1823.2,298.5 1824.4,308.0 1825.8,322.6 1827.4,343.8 1829.4,376.8 1831.8,424.6 1834.8,495.5 1839.0,608.6 1841.4,676.8 1841.4,683.6 1834.6,683.6 1832.2,615.4 1828.0,502.3 1825.0,431.4 1822.6,383.6 1820.6,350.6 1818.8,327.1 1817.4,313.0 1816.6,307.1 1815.4,317.0 1813.8,334.9 1812.0,360.6 1809.8,399.5 1807.2,455.2 1804.0,534.6 1793.8,819.2 1790.4,905.2 1787.8,961.7 1785.6,1002.0 1783.8,1028.6 1782.2,1047.1 1781.0,1057.9 1779.8,1065.8 1778.8,1070.0 1778.2,1071.4 1777.8,1072.1 1777.0,1072.4 1770.2,1072.4 1769.2,1070.8 1768.2,1067.0 1767.0,1059.7 1765.8,1049.5 1764.4,1034.4 1762.6,1009.1 1760.6,974.5 1758.0,920.1 1754.8,841.8 1749.6,697.9 1743.8,536.0 1740.6,456.3 1738.0,400.6 1735.8,361.3 1734.0,335.5 1732.4,317.6 1731.2,307.5 1731.0,307.8 1729.8,317.9 1728.2,336.1 1726.4,362.2 1724.2,401.5 1721.6,457.5 1718.4,537.3 1708.2,821.9 1704.8,907.5 1702.2,963.7 1700.0,1003.6 1698.2,1029.9 1696.6,1048.1 1695.4,1058.6 1694.2,1066.3 1693.2,1070.3 1692.6,1071.6 1692.2,1072.2 1691.8,1072.3 1684.6,1072.3 1683.6,1070.5 1682.6,1066.6 1681.4,1059.0 1680.2,1048.6 1678.8,1033.1 1677.0,1007.5 1674.8,968.7 1672.0,908.7 1668.6,823.2 1660.0,582.0 1656.2,482.5 1653.4,418.8 1651.0,372.9 1649.0,341.9 1647.4,322.7 1646.2,311.3 1645.6,307.2 1645.4,308.6 1644.4,317.1 1642.8,334.9 1641.0,360.6 1638.8,399.6 1636.2,455.1 1633.0,534.7 1622.6,824.5 1619.2,909.9 1616.4,969.7 1614.2,1008.3 1612.4,1033.7 1611.0,1049.1 1609.8,1059.4 1608.6,1066.8 1607.6,1070.6 1606.8,1072.1 1606.6,1072.3 1601.4,1072.3 1599.0,1072.2 1598.0,1070.2 1597.2,1066.9 1596.2,1061.2 1594.8,1049.6 1593.2,1031.9 1591.4,1005.9 1589.2,966.7 1586.6,911.0 1583.4,831.2 1573.0,541.2 1569.6,456.3 1567.0,400.5 1564.8,361.4 1563.0,335.5 1561.6,319.5 1560.2,307.5 1560.0,307.9 1558.8,318.1 1557.2,336.2 1555.4,362.2 1553.2,401.5 1550.6,457.5 1547.4,537.3 1541.6,699.3 1536.4,843.1 1533.2,921.2 1530.6,975.4 1528.6,1009.8 1526.8,1034.9 1525.4,1050.0 1524.2,1060.1 1523.0,1067.3 1522.0,1070.9 1521.2,1072.2 1521.0,1072.4 1514.4,1072.4 1513.4,1072.1 1512.4,1069.9 1511.6,1066.4 1510.6,1060.5 1509.2,1048.6 1507.8,1033.0 1506.0,1007.4 1503.8,968.7 1501.2,913.2 1498.0,833.9 1487.8,549.3 1484.4,463.2 1481.6,402.4 1479.4,363.0 1477.6,336.7 1476.2,320.6 1475.0,309.7 1474.6,307.2 1474.4,308.7 1473.2,319.0 1471.6,337.5 1469.8,363.8 1467.6,403.5 1465.0,459.8 1461.6,545.3 1455.0,730.6 1450.4,855.9 1447.4,927.9 1445.0,977.3 1443.0,1011.4 1441.2,1036.2 1439.8,1051.0 1438.6,1060.8 1437.4,1067.8 1436.4,1071.1 1435.6,1072.3 1435.4,1072.4 1428.6,1072.4 1427.8,1072.0 1426.8,1069.5 1426.0,1065.9 1425.0,1059.8 1423.8,1049.7 1422.2,1031.7 1420.4,1005.8 1418.2,966.7 1415.6,910.9 1412.2,825.9 1406.0,652.2 1401.2,520.3 1398.0,442.5 1395.6,392.9 1393.6,358.2 1391.8,333.0 1390.4,317.6 1389.2,307.4 1389.0,307.9 1388.8,309.4 1387.8,318.1 1386.2,336.1 1384.4,362.1 1382.2,401.5 1379.6,457.4 1376.2,542.6 1369.2,739.1 1364.8,858.5 1361.8,930.1 1359.4,979.1 1357.4,1012.9 1355.6,1037.4 1354.2,1051.9 1353.0,1061.5 1351.8,1068.2 1350.8,1071.4 1350.0,1072.3 1349.8,1072.4 1343.0,1072.4 1342.2,1071.8 1341.2,1069.2 1340.4,1065.4 1339.4,1059.0 1338.2,1048.7 1336.6,1030.4 1334.8,1004.2 1332.6,964.8 1330.0,908.6 1326.6,823.3 1320.0,638.0 1315.4,512.5 1312.4,440.3 1310.0,391.0 1308.0,356.7 1306.2,331.8 1304.8,316.6 1303.6,307.0 1303.2,310.2 1302.2,319.1 1300.6,337.4 1298.8,363.7 1296.6,403.5 1294.0,459.7 1290.6,545.3 1283.2,753.2 1279.0,866.1 1276.0,936.8 1273.6,984.5 1271.6,1017.3 1270.0,1038.5 1268.6,1052.8 1267.4,1062.1 1266.2,1068.6 1265.2,1071.6 1264.4,1072.4 1257.4,1072.4 1256.6,1071.6 1255.6,1068.8 1254.8,1064.8 1253.8,1058.3 1252.6,1047.8 1251.0,1029.1 1249.2,1002.6 1247.0,962.8 1244.4,906.2 1241.2,825.9 1234.6,640.8 1230.0,515.1 1227.0,442.6 1224.6,392.8 1222.6,358.2 1220.8,332.9 1219.4,317.6 1218.2,307.4 1218.0,307.8 1217.8,309.4 1216.6,320.1 1215.2,336.0 1213.4,362.1 1211.2,401.5 1208.6,457.4 1205.2,542.6 1196.0,800.4 1192.4,893.2 1189.8,951.5 1187.4,996.9 1185.6,1024.5 1184.0,1044.0 1182.8,1055.4 1181.6,1064.1 1180.6,1069.0 1179.6,1071.8 1178.8,1072.4 1171.8,1072.4 1171.0,1071.4 1170.0,1068.4 1169.2,1064.3 1168.4,1058.9 1167.2,1048.7 1165.6,1030.4 1163.8,1004.2 1161.6,964.7 1159.0,908.6 1155.6,823.3 1148.6,626.7 1144.2,507.4 1141.2,435.9 1138.8,387.2 1136.8,353.6 1135.0,329.4 1133.6,314.8 1132.6,307.0 1131.2,319.1 1129.8,334.8 1128.0,360.6 1125.8,399.4 1123.2,455.1 1119.8,540.0 1110.2,808.5 1106.6,900.4 1104.0,957.7 1101.8,998.6 1100.0,1025.8 1098.4,1045.0 1097.2,1056.2 1096.0,1064.7 1095.0,1069.4 1094.0,1071.9 1093.2,1072.4 1086.2,1072.4 1085.4,1071.2 1084.4,1067.9 1083.6,1063.7 1082.8,1058.2 1081.6,1047.7 1080.0,1029.1 1078.2,1002.6 1076.0,962.7 1073.4,906.2 1070.0,820.6 1063.2,629.5 1058.8,510.0 1055.8,438.2 1053.4,389.0 1051.4,355.1 1049.6,330.5 1048.2,315.8 1047.2,307.5 1047.0,307.8 1045.6,320.1 1044.2,336.1 1042.4,362.2 1040.2,401.4 1037.6,457.5 1034.4,537.3 1024.4,816.5 1021.0,902.8 1018.4,959.7 1016.2,1000.2 1014.4,1027.2 1012.8,1046.1 1011.6,1057.0 1010.4,1065.2 1009.4,1069.7 1008.4,1072.1 1007.6,1072.3 1000.6,1072.3 999.8,1071.0 998.8,1067.5 998.0,1063.1 997.2,1057.4 996.2,1048.6 994.6,1030.4 992.8,1004.3 990.6,964.7 988.0,908.6 984.6,823.2 977.0,609.8 972.8,497.3 969.8,427.2 967.4,380.0 965.4,347.7 963.8,327.1 962.4,313.0 961.6,307.2 961.4,308.5 960.0,321.1 958.6,337.4 956.8,363.8 954.6,403.4 952.2,455.2 949.0,534.7 938.8,819.2 935.4,905.2 932.8,961.7 930.6,1001.9 928.8,1028.5 927.2,1047.1 926.0,1057.8 924.8,1065.8 923.8,1070.0 922.8,1072.2 922.4,1072.2 916.0,1072.3 915.0,1072.2 914.2,1070.7 913.2,1067.0 912.4,1062.4 911.6,1056.6 910.6,1047.6 909.2,1031.8 907.4,1006.0 905.4,970.7 903.0,920.1 899.8,841.7 894.6,697.9 888.8,536.0 885.6,456.3 883.0,400.6 880.8,361.4 879.0,335.5 877.4,317.5 876.2,307.5 876.0,307.9 874.6,320.0 873.2,336.2 871.4,362.2 869.2,401.5 866.8,452.8 863.6,532.1 858.2,682.2 852.6,837.9 849.4,916.7 846.8,971.6 844.6,1009.8 842.8,1034.9 841.4,1050.0 840.2,1060.2 839.2,1066.3 838.2,1070.3 837.2,1072.3 830.0,1072.3 829.4,1072.1 828.6,1070.4 827.6,1066.5 826.4,1059.0 825.2,1048.6 823.8,1033.0 822.0,1007.4 819.8,968.7 817.2,913.2 813.8,828.6 804.2,560.1 800.6,467.9 798.0,410.5 795.8,369.4 794.0,342.0 792.4,322.7 791.2,311.3 790.6,307.2 790.4,308.6 789.2,319.0 787.6,337.5 785.8,363.8 783.6,403.5 781.0,459.8 777.6,545.2 771.0,730.6 766.4,855.9 763.4,927.9 761.0,977.2 759.0,1011.3 757.2,1036.1 755.8,1051.0 754.6,1060.8 753.6,1066.8 752.6,1070.6 751.6,1072.4 744.8,1072.4 743.8,1072.0 743.0,1070.1 742.0,1066.0 740.8,1058.3 739.6,1047.6 738.2,1031.8 736.4,1005.9 734.2,966.8 731.6,910.9 728.4,831.3 718.6,557.4 715.0,465.5 712.2,404.4 710.0,364.5 708.2,337.9 706.6,319.6 705.2,307.4 705.0,307.9 704.8,309.4 703.8,318.1 702.2,336.2 700.4,362.1 698.2,401.6 695.6,457.4 692.2,542.6 685.0,744.8 680.6,863.6 677.6,934.6 675.2,982.7 673.2,1015.8 671.4,1039.5 670.2,1051.9 669.0,1061.5 668.0,1067.2 667.0,1070.9 666.0,1072.4 659.2,1072.4 658.2,1071.8 657.4,1069.8 656.4,1065.5 655.2,1057.5 654.0,1046.6 652.6,1030.5 650.8,1004.2 648.6,964.8 646.0,908.6 642.8,828.6 632.8,549.3 629.4,463.2 626.8,406.5 624.6,366.1 622.8,339.3 621.2,320.6 620.0,309.7 619.6,307.1 619.4,308.6 618.2,319.1 616.6,337.4 614.8,363.7 612.6,403.5 610.0,459.7 606.6,545.3 598.4,775.6 594.4,881.0 591.6,945.3 589.2,991.7 587.2,1023.2 585.6,1042.9 584.4,1054.6 583.4,1062.2 582.4,1067.7 581.4,1071.1 580.4,1072.5 573.6,1072.5 572.6,1071.7 571.8,1069.4 571.0,1065.9 570.0,1059.7 568.6,1047.7 567.2,1031.7 565.4,1005.8 563.2,966.7 560.6,910.9 557.4,831.2 547.2,546.7 543.8,460.8 541.0,400.5 538.8,361.3 537.0,335.3 535.4,317.6 534.2,307.4 534.0,307.8 532.8,318.1 531.4,333.5 529.6,358.9 527.4,397.5 524.6,457.3 521.2,542.7 512.6,783.8 508.8,883.5 506.0,947.4 503.6,993.4 501.6,1024.5 500.0,1044.0 498.8,1055.5 497.8,1062.8 496.8,1068.1 496.0,1070.7 495.6,1071.7 494.8,1072.5 488.0,1072.5 487.0,1071.5 486.2,1069.1 485.4,1065.3 484.4,1059.0 483.0,1046.7 481.6,1030.4 479.8,1004.2 477.6,964.7 475.2,913.2 472.0,833.8 466.4,677.9 461.0,528.1 457.8,449.4 455.2,394.6 453.0,356.7 451.2,331.7 449.8,316.7 448.6,307.0 447.2,319.1 445.8,334.8 444.0,360.5 441.8,399.5 439.0,459.7 435.6,545.3 427.0,786.6 423.2,885.9 420.4,949.5 418.0,995.1 416.0,1025.9 414.4,1045.0 413.2,1056.3 412.2,1063.4 411.2,1068.5 410.4,1071.0 410.0,1071.8 409.2,1072.5 402.4,1072.5 401.4,1071.3 400.6,1068.7 399.8,1064.8 399.0,1059.7 398.0,1051.4 396.6,1036.8 394.8,1012.2 392.8,978.2 390.2,924.6 387.2,852.1 382.8,732.0 376.0,541.3 372.6,456.2 370.0,400.6 367.8,361.2 366.0,335.5 364.4,317.7 363.2,307.5 363.0,307.7 361.8,318.1 360.2,336.0 358.4,362.1 356.2,401.4 353.6,457.4 350.2,542.6 341.4,789.4 337.6,888.3 334.8,951.5 332.4,996.8 330.4,1027.2 328.8,1046.1 327.6,1057.1 326.6,1064.0 325.6,1068.9 324.8,1071.2 324.4,1072.0 323.6,1072.4 316.8,1072.4 315.8,1071.1 315.2,1069.0 314.6,1066.4 313.6,1060.4 312.4,1050.5 310.8,1033.0 309.0,1007.6 306.8,968.6 304.2,913.3 301.0,833.8 295.6,683.6" fill="#000"/>
</g>
<g fill="#0000D8">
<rect x="295" y="57" width="1546" height="7"/>
<rect x="295" y="1302" width="1546" height="6"/>
<rect x="295" y="57" width="7" height="1251"/>
<rect x="1834" y="57" width="7" height="1251"/>
<rect x="488" y="64" width="5" height="33"/>
<rect x="488" y="1270" width="5" height="32"/>
<rect x="681" y="64" width="5" height="33"/>
<rect x="681" y="1270" width="5" height="32"/>
<rect x="873" y="64" width="5" height="33"/>
<rect x="873" y="1270" width="5" height="32"/>
<rect x="1066" y="64" width="5" height="33"/>
<rect x="1066" y="1270" width="5" height="32"/>
<rect x="1258" y="64" width="5" height="33"/>
<rect x="1258" y="1270" width="5" height="32"/>
<rect x="1450" y="64" width="5" height="33"/>
<rect x="1450" y="1270" width="5" height="32"/>
<rect x="1643" y="64" width="5" height="33"/>
<rect x="1643" y="1270" width="5" height="32"/>
<rect x="302" y="183.4" width="33" height="5.4"/>
<rect x="302" y="432.8" width="33" height="5.4"/>
<rect x="302" y="680.8" width="33" height="5.4"/>
<rect x="302" y="929.8" width="33" height="5.4"/>
<rect x="302" y="1178.3" width="33" height="5.4"/>
<rect x="1803" y="266" width="31" height="5"/>
<rect x="1803" y="474" width="31" height="5"/>
<rect x="1803" y="681.1" width="31" height="5"/>
<rect x="1803" y="887.5" width="31" height="5"/>
<rect x="1803" y="1096" width="31" height="5"/>
</g>
<defs><clipPath id="c_lm2"><rect x="162.45" y="-20.91" width="37.55" height="4.02"/><rect x="201.61" y="-70.00" width="42.21" height="95.00"/></clipPath><clipPath id="c_lm4"><rect x="174.68" y="-21.00" width="40.16" height="3.86"/><rect x="215.85" y="-70.00" width="44.21" height="95.00"/></clipPath><clipPath id="c_r1"><rect x="1734.78" y="-62.00" width="43.00" height="55.15"/><rect x="1754.39" y="-9.00" width="7.13" height="9.60"/></clipPath><clipPath id="c_rm1"><rect x="1736.40" y="-20.62" width="37.04" height="3.79"/><rect x="1773.48" y="-62.00" width="43.00" height="55.15"/><rect x="1793.09" y="-9.00" width="7.13" height="9.60"/></clipPath><clipPath id="c_rm2"><rect x="1756.19" y="-20.74" width="37.37" height="3.82"/><rect x="1795.26" y="-70.00" width="42.21" height="95.00"/></clipPath><clipPath id="c_rm3"><rect x="1936.05" y="-20.89" width="41.30" height="4.00"/><rect x="1981.39" y="-70.00" width="43.21" height="95.00"/></clipPath><clipPath id="c_x100"><rect x="236.92" y="-62.00" width="43.00" height="55.15"/><rect x="256.53" y="-9.00" width="7.13" height="9.60"/><rect x="280.54" y="-70.00" width="84.67" height="95.00"/></clipPath><clipPath id="c_x150"><rect x="432.39" y="-62.00" width="43.00" height="55.15"/><rect x="452.00" y="-9.00" width="7.13" height="9.60"/><rect x="477.20" y="-70.00" width="84.67" height="95.00"/></clipPath></defs>
<text transform="translate(214.51 198.54) scale(0.9961 1.0316)" font-size="75" style="stroke:#000;stroke-width:0.5">4</text>
<text transform="translate(213.15 446.64) scale(1.0705 1.0427)" font-size="75" style="stroke:#000;stroke-width:0.5">2</text>
<text transform="translate(216.12 695.86) scale(0.9738 1.0449)" font-size="75" style="stroke:#000;stroke-width:0.5">0</text>
<text transform="translate(0 943.64) scale(1.0705 1.0445)" x="158.25 199.11" font-size="75" style="stroke:#000;stroke-width:0.5" clip-path="url(#c_lm2)">–2</text>
<text transform="translate(0 1193.74) scale(0.9961 1.0354)" x="173.09 215.35" font-size="75" style="stroke:#000;stroke-width:0.5" clip-path="url(#c_lm4)">–4</text>
<text transform="translate(1880.47 74.85) scale(0.9710 1.0467)" font-size="75" style="stroke:#000;stroke-width:0.5">3</text>
<text transform="translate(1877.15 280.54) scale(1.0705 1.0408)" font-size="75" style="stroke:#000;stroke-width:0.5">2</text>
<text transform="translate(0 487.74) scale(1.0827 1.0545)" x="1735.78" font-size="75" style="stroke:#000;stroke-width:0.5" clip-path="url(#c_r1)">1</text>
<text transform="translate(1880.24 695.85) scale(0.9683 1.0467)" font-size="75" style="stroke:#000;stroke-width:0.5">0</text>
<text transform="translate(0 902.74) scale(1.0827 1.0545)" x="1731.69 1774.48" font-size="75" style="stroke:#000;stroke-width:0.5" clip-path="url(#c_rm1)">–1</text>
<text transform="translate(0 1110.74) scale(1.0705 1.0483)" x="1751.80 1792.76" font-size="75" style="stroke:#000;stroke-width:0.5" clip-path="url(#c_rm2)">–2</text>
<text transform="translate(0 1318.95) scale(0.9710 1.0505)" x="1935.59 1979.89" font-size="75" style="stroke:#000;stroke-width:0.5" clip-path="url(#c_rm3)">–3</text>
<text transform="translate(0 1398.05) scale(1.0013 1.0505)" x="237.92 278.79 320.50" font-size="75" style="stroke:#000;stroke-width:0.5" clip-path="url(#c_x100)">100</text>
<text transform="translate(0 1398.05) scale(0.9910 1.0505)" x="433.39 475.45 517.16" font-size="75" style="stroke:#000;stroke-width:0.5" clip-path="url(#c_x150)">150</text>
<text transform="translate(618.41 1398.05) scale(1.0252 1.0505)" font-size="75" style="stroke:#000;stroke-width:0.5">200</text>
<text transform="translate(810.49 1398.05) scale(1.0303 1.0505)" font-size="75" style="stroke:#000;stroke-width:0.5">250</text>
<text transform="translate(1006.79 1398.05) scale(1.0042 1.0505)" font-size="75" style="stroke:#000;stroke-width:0.5">300</text>
<text transform="translate(1198.61 1398.05) scale(0.9942 1.0505)" font-size="75" style="stroke:#000;stroke-width:0.5">350</text>
<text transform="translate(1388.77 1398.05) scale(1.0182 1.0505)" font-size="75" style="stroke:#000;stroke-width:0.5">400</text>
<text transform="translate(1580.06 1398.05) scale(1.0248 1.0505)" font-size="75" style="stroke:#000;stroke-width:0.5">450</text>
<text transform="translate(1775.24 1398.05) scale(1.0029 1.0505)" font-size="75" style="stroke:#000;stroke-width:0.5">500</text>
<text transform="translate(912.50 1504.95) scale(1.0015 1.0000)" font-size="77" style="stroke:#000;stroke-width:0.3">Time (ms)</text>
<text transform="translate(85.10 866.15) rotate(-90) scale(1.0051 1.0000)" font-size="77" style="stroke:#000;stroke-width:0.3">Voltage (V)</text>
<text transform="translate(2102.00 913.73) rotate(-90) scale(0.9934 1.0000)" font-size="77" style="stroke:#000;stroke-width:0.3" xml:space="preserve">Current  (mA)</text>
<text transform="translate(0 198.98) scale(0.9855 1.0199)" x="696.86" font-size="67.5">Without water flow, <tspan x="1276.19" font-style="italic">f</tspan><tspan x="1293.76">=45 Hz</tspan></text>
<text transform="translate(1624.05 230.90) scale(0.9931 1.0340)" font-size="77">I</text>
<text transform="translate(556.71 1168.00) scale(0.9783 1.0400)" font-size="67" style="fill:#FF145A">V</text>
<text transform="translate(0 1689.64) scale(0.8589 0.9417)" x="1188.92" font-size="92" class="cap">(<tspan x="1220.61" font-size="92.83" font-weight="bold">a</tspan><tspan x="1268.28">)</tspan></text>
<g shape-rendering="crispEdges">
<line x1="1609.7" y1="197.6" x2="1517.4" y2="275.4" stroke="#000" stroke-width="2.6"/>
<polygon points="1486.1,301.8 1546.6,279.2 1517.4,275.4 1518.6,245.9" fill="#000"/>
<line x1="604.0" y1="1086.1" x2="690.9" y2="964.6" stroke="#FF0000" stroke-width="2.8"/>
<polygon points="714.8,931.3 661.7,968.1 690.9,964.6 697.1,993.4" fill="#FF0000"/>
</g>
</svg>
</body></html>
